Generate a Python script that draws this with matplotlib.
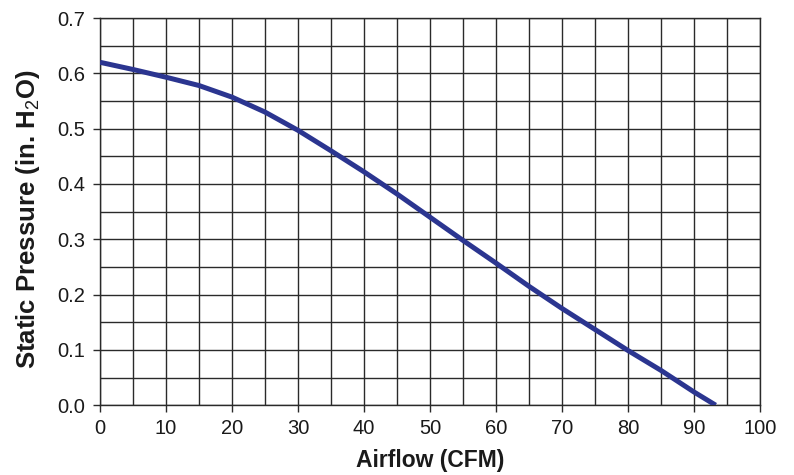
import matplotlib
matplotlib.use("Agg")
import matplotlib.pyplot as plt
import numpy as np

airflow = [0, 5, 10, 15, 20, 25, 30, 35, 40, 45, 50, 55, 60, 65, 70, 75, 80, 85, 90, 93.3]
pressure = [0.620, 0.607, 0.593, 0.578, 0.557, 0.530, 0.497, 0.460, 0.422, 0.382,
            0.340, 0.298, 0.257, 0.215, 0.175, 0.137, 0.099, 0.063, 0.024, 0.0]

x_ticks = [0, 10, 20, 30, 40, 50, 60, 70, 80, 90, 100]
y_ticks = [0.0, 0.1, 0.2, 0.3, 0.4, 0.5, 0.6, 0.7]

plt.rcParams['font.family'] = ['Liberation Sans', 'DejaVu Sans']
plt.rcParams['mathtext.fontset'] = 'custom'
plt.rcParams['mathtext.rm'] = 'Liberation Sans'
plt.rcParams['mathtext.bf'] = 'Liberation Sans:bold'

fig = plt.figure(figsize=(7.94, 4.75), dpi=100)
ax = fig.add_axes([0.126, 0.147, 0.831, 0.815])

ax.plot(airflow, pressure, color='#2b3590', lw=3.6, solid_capstyle='butt', zorder=3)

ax.set_xlim(0, 100)
ax.set_ylim(0, 0.7)
ax.set_xticks(x_ticks)
ax.set_xticklabels([str(t) for t in x_ticks])
ax.set_yticks(y_ticks)
ax.set_yticklabels([f"{t:.1f}" for t in y_ticks])
ax.set_xticks(np.arange(5, 100, 10), minor=True)
ax.set_yticks(np.arange(0.05, 0.7, 0.1), minor=True)
ax.grid(True, which='both', color='#2a2a2a', lw=1.0)
ax.tick_params(axis='both', which='major', labelsize=14.5, length=5, width=1.0,
               color='#2a2a2a', direction='out', labelcolor='#1a1a1a')
ax.tick_params(axis='both', which='minor', length=0)
ax.tick_params(axis='x', pad=5)
ax.tick_params(axis='y', pad=6)
for s in ax.spines.values():
    s.set_color('#2a2a2a')
    s.set_linewidth(1.0)

ax.set_xlabel('Airflow (CFM)', fontsize=16.5, fontweight='bold', color='#1a1a1a')
ax.set_ylabel(r'Static Pressure (in. H$_{\mathrm{2}}$O)', fontsize=18.5, fontweight='bold', color='#1a1a1a')
ax.xaxis.set_label_coords(0.5, -0.114)
ax.yaxis.set_label_coords(-0.088, 0.481)

fig.savefig('out.png', dpi=100)
